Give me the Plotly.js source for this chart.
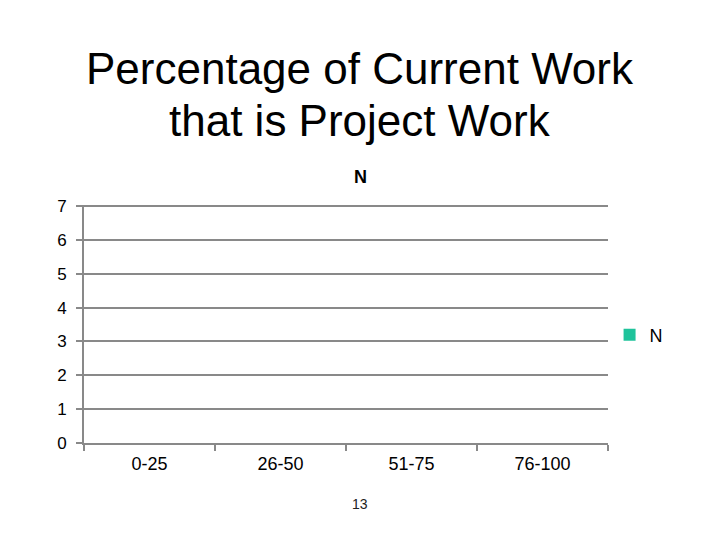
<!DOCTYPE html>
<html>
<head>
<meta charset="utf-8">
<script src="https://cdn.plot.ly/plotly-3.0.1.min.js"></script>
<style>html,body{margin:0;padding:0;background:#fff;}#chart{width:720px;height:540px;}</style>
</head>
<body>
<div id="chart"></div>
<script>
const categories = ["0-25", "26-50", "51-75", "76-100"];
const seriesName = "N";
const values = [0, 0, 0, 0];
const yTicks = [0, 1, 2, 3, 4, 5, 6, 7];
const titleLines = ["Percentage of Current Work", "that is Project Work"];
const chartTitle = "N";
const pageNumber = "13";

const font = "Liberation Sans, Arial, sans-serif";
const gridColor = "#898989";

const trace = {
  type: "bar",
  x: categories,
  y: values,
  name: seriesName,
  marker: {color: "#1fc39b"},
  showlegend: true
};

const yMax = 7.03;
const plotBottom = 443, plotLeft = 84, plotRight = 608;
const plotTop = plotBottom - (443 - 206) * yMax / 7;
const py = p => (plotBottom - p) / (plotBottom - plotTop);
const px = p => (p - plotLeft) / (plotRight - plotLeft);

const layout = {
  width: 720, height: 540,
  paper_bgcolor: "#fff", plot_bgcolor: "#fff",
  margin: {l: plotLeft, r: 720 - plotRight, t: plotTop, b: 540 - plotBottom, pad: 0},
  font: {family: font, color: "#000"},
  xaxis: {
    type: "category",
    range: [-0.5, 3.5],
    tickson: "boundaries",
    ticks: "outside", ticklen: 6, tickwidth: 2, tickcolor: gridColor,
    showline: true, linecolor: gridColor, linewidth: 2,
    showgrid: false, zeroline: false,
    tickfont: {family: font, size: 18, color: "#000"},
    ticklabelstandoff: 3
  },
  yaxis: {
    range: [0, yMax],
    tickvals: yTicks,
    ticktext: yTicks.map(String),
    ticks: "outside", ticklen: 6, tickwidth: 2, tickcolor: gridColor,
    showline: true, linecolor: gridColor, linewidth: 2,
    showgrid: true, gridcolor: gridColor, gridwidth: 2,
    zeroline: false,
    tickfont: {family: font, size: 17, color: "#000"},
    ticklabelstandoff: 6
  },
  legend: {
    x: 1.003, xanchor: "left", xref: "paper",
    y: py(335), yanchor: "middle",
    font: {family: font, size: 18, color: "#000"},
    itemwidth: 30,
    bgcolor: "rgba(0,0,0,0)"
  },
  annotations: [
    {text: titleLines[0], xref: "paper", yref: "paper",
     x: px(360), y: py(68), xanchor: "center", yanchor: "middle",
     showarrow: false, font: {family: font, size: 44, color: "#000"}},
    {text: titleLines[1], xref: "paper", yref: "paper",
     x: px(360), y: py(120), xanchor: "center", yanchor: "middle",
     showarrow: false, font: {family: font, size: 44, color: "#000"}},
    {text: "<b>" + chartTitle + "</b>", xref: "paper", yref: "paper",
     x: px(360), y: py(177), xanchor: "center", yanchor: "middle",
     showarrow: false, font: {family: font, size: 18, color: "#000"}},
    {text: pageNumber, xref: "paper", yref: "paper",
     x: px(360), y: py(504), xanchor: "center", yanchor: "middle",
     showarrow: false, font: {family: font, size: 14, color: "#222"}}
  ],
  bargap: 0.4
};

Plotly.newPlot("chart", [trace], layout, {staticPlot: true, displayModeBar: false});
</script>
</body>
</html>
